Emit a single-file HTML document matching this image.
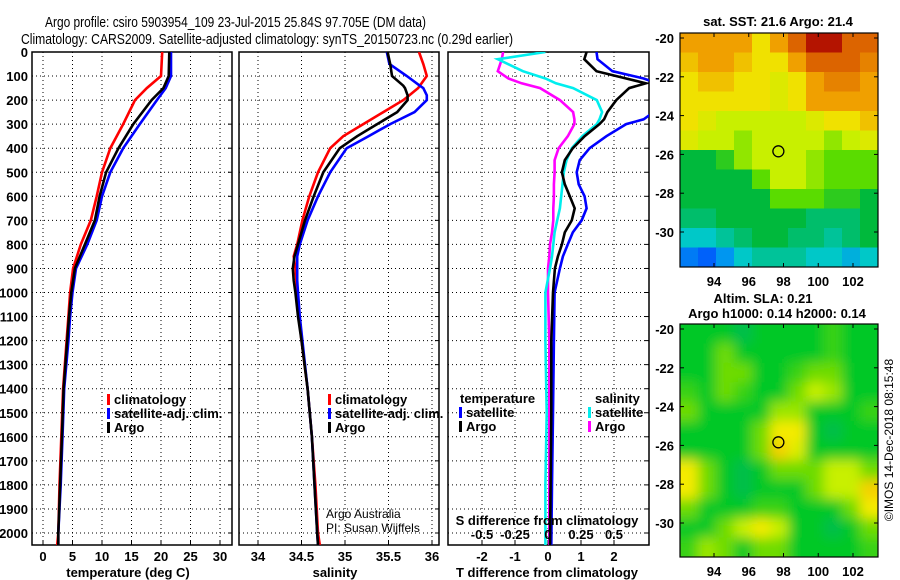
<!DOCTYPE html>
<html><head><meta charset="utf-8"><style>
html,body{margin:0;padding:0;background:#fff}
svg{display:block;font-family:"Liberation Sans",sans-serif}
.b{font-weight:bold;font-size:13px}
.n{font-weight:normal;font-size:12px}
</style></head><body>
<svg id="chart" width="900" height="580" xmlns="http://www.w3.org/2000/svg">
<text x="45" y="27" font-size="15" textLength="381" lengthAdjust="spacingAndGlyphs">Argo profile: csiro 5903954_109 23-Jul-2015 25.84S 97.705E (DM data)</text>
<text x="21" y="44" font-size="15" textLength="492" lengthAdjust="spacingAndGlyphs">Climatology: CARS2009. Satellite-adjusted climatology: synTS_20150723.nc (0.29d earlier)</text>
</svg>
<script>
// ---------- data ----------
const depthTicks=[0,100,200,300,400,500,600,700,800,900,1000,1100,1200,1300,1400,1500,1600,1700,1800,1900,2000];
const tTickLabels=[0,5,10,15,20,25,30];
const sTickLabels=[34,34.5,35,35.5,36];
const dTTickLabels=[-2,-1,0,1,2];
const dSTickLabels=[-0.5,-0.25,0,0.25,0.5];
const tDepths=[0,100,150,200,300,400,500,600,700,800,900,1000,1100,1200,1400,1600,1800,2000,2050];
const tClim=[20.2,20.0,17.6,15.6,13.6,11.4,10.0,9.1,8.1,6.4,5.1,4.6,4.3,4.0,3.4,3.1,2.8,2.6,2.4];
const tSat=[21.7,21.7,20.8,19.3,16.4,13.6,11.4,10.0,9.1,7.5,5.6,5.0,4.6,4.3,3.6,3.3,3.0,2.6,2.6];
const tArgo=[21.4,21.3,20.4,18.4,15.3,12.8,10.7,9.6,8.8,7.1,5.4,4.8,4.4,4.1,3.5,3.2,2.9,2.6,2.6];
const sDepths=[0,50,100,140,150,180,200,250,300,350,400,500,600,700,800,850,900,950,1000,1100,1200,1400,1600,1800,2000,2050];
const sClim=[35.85,35.9,35.94,35.86,35.84,35.74,35.67,35.44,35.21,34.98,34.83,34.69,34.59,34.51,34.45,34.41,34.43,34.44,34.45,34.47,34.5,34.57,34.62,34.66,34.69,34.71];
const sSat=[35.48,35.51,35.71,35.86,35.9,35.94,35.94,35.8,35.52,35.27,35.02,34.83,34.69,34.57,34.48,34.45,34.45,34.45,34.46,34.48,34.51,34.57,34.62,34.65,34.68,34.69];
const sArgo=[35.49,35.52,35.54,35.67,35.69,35.72,35.72,35.6,35.37,35.14,34.94,34.75,34.64,34.54,34.46,34.42,34.4,34.41,34.43,34.46,34.5,34.57,34.62,34.65,34.68,34.69];
const dDepths=[0,30,80,110,130,150,200,250,280,300,350,400,450,500,550,600,650,700,750,800,850,900,1000,1200,1500,1800,2050];
const dTSat=[1.47,1.5,1.95,2.9,3.3,3.5,3.5,3.2,2.9,2.37,1.77,1.26,0.96,0.87,0.93,1.11,1.17,1.02,0.75,0.6,0.45,0.36,0.2,0.18,0.15,0.12,0.1];
const dTArgo=[1.17,1.1,1.47,2.37,2.97,2.46,2.07,1.8,1.7,1.56,1.11,0.75,0.51,0.42,0.51,0.66,0.81,0.72,0.51,0.42,0.3,0.21,0.15,0.1,0.1,0.08,0.06];
const dSSat=[-0.02,-0.38,-0.19,-0.02,0.06,0.19,0.37,0.41,0.39,0.37,0.26,0.18,0.14,0.12,0.11,0.1,0.09,0.07,0.05,0.04,0.03,0.015,-0.02,-0.02,-0.01,-0.02,-0.02];
const dSArgo=[-0.34,-0.35,-0.38,-0.3,-0.2,-0.06,0.09,0.19,0.2,0.2,0.15,0.08,0.05,0.05,0.045,0.045,0.04,0.04,0.03,0.015,0.01,0.0,0.0,0.01,0.01,0.01,0.01];
const lonTicks=[94,96,98,100,102];
const latTicks=[-20,-22,-24,-26,-28,-30];
const sstGrid=[
[8,8,8,8,7,8,9,10,10,9,9],
[7.5,8,8,7.5,7,7,8,9,9,9,8.5],
[7,7.5,7.5,7,7,6.5,7,8,8.5,8.5,8],
[7,7,7,7,7,6.5,7,8,8,8,8],
[7,6.5,6,6,6,6,6,6.5,7,7,7.5],
[6.5,6,6,5.5,6,6,6,6,5.5,6,6.5],
[4,4,4.5,5.5,6,6,6,5.5,5,5,5],
[4,4,4,4,5,6,6,5.5,5,5,5],
[4,4,4,4,4,5,5,5,4.5,4.5,4],
[3.5,3.5,4,4,4,4,4,3.5,3.5,3.5,4],
[2.5,2.5,3,3.5,4,4,3.5,3.5,3,3.5,4],
[1,0.5,1.5,2.5,3,3,3,2.5,2.5,2,2.5]];
const slaGrid=[
[4,4,4,3.5,4,4,4,4,4.5,4,4],
[4,4,5,4,4,4,4,4,4.5,4,4],
[4,4,5,5,4,4,4.5,5,5,4,4],
[4.5,4,5,4.5,4,4,5,6,5.5,4,4],
[5,4,4,4,4,5.5,5.5,4,4,4,4.5],
[4,4,4,4,5,7,7,4,3.5,4,4],
[4,4,4,4,5,7.5,6.5,4,4,4,4],
[7,5,4,3.5,4,5,5,5,6,6,5],
[7,5,4,3.5,4,4,4,5,6,6,7.5],
[5,4,4,4,4.5,4.5,4,4,4,5,7],
[4,4,5,6,7,6,4,4,3.5,4,5],
[4.5,5.5,5,4,5,5,4,4,4,4,4.5]];
const argoLon=97.705, argoLat=-25.84;

// ---------- helpers ----------
const NS="http://www.w3.org/2000/svg";
const svg=document.getElementById('chart');
function mk(tag,attrs,parent){const e=document.createElementNS(NS,tag);for(const k in attrs)e.setAttribute(k,attrs[k]);(parent||svg).appendChild(e);return e;}
function txt(s,x,y,anchor,cls,parent){const e=mk('text',{x:x,y:y,'text-anchor':anchor||'start','class':cls||'b'},parent);e.textContent=s;return e;}
const Y0=52,Y1=545;
function yD(d){return Y0+d*0.2405;}
function lin(v0,p0,v1,p1){return v=>p0+(v-v0)*(p1-p0)/(v1-v0);}

function panel(name,x0,x1,ticksX,labels,xs,showY){
  const g=mk('g',{});
  
  
  const cid='clip-'+name;
  const cp=mk('clipPath',{id:cid},g);mk('rect',{x:x0,y:Y0,width:x1-x0,height:Y1-Y0},cp);
  depthTicks.forEach(d=>{
    const l=mk('line',{x1:x0,x2:x1,y1:yD(d),y2:yD(d),stroke:'#000','stroke-dasharray':'1 3','stroke-width':1},g);
    
    
    mk('line',{x1:x1-4,x2:x1,y1:yD(d),y2:yD(d),stroke:'#000'},g);
    if(showY){const t=txt(String(d),28,yD(d)+5,'end','b',g);
      
      }
  });
  ticksX.forEach(v=>{
    const X=xs(v);
    mk('line',{x1:X,x2:X,y1:Y0,y2:Y1,stroke:'#000','stroke-dasharray':'1 3'},g);
    mk('line',{x1:X,x2:X,y1:Y1-4,y2:Y1,stroke:'#000'},g);
  });
  if(labels) labels.forEach(v=>{const t=txt(String(v),xs(v),561,'middle','b',g);
    
    });
  const f=mk('rect',{x:x0,y:Y0,width:x1-x0,height:Y1-Y0,fill:'none',stroke:'#000','stroke-width':1.5},g);
  
  
  return {g:g,cid:cid};
}
function series(p,name,depths,vals,xs,color){
  const pts=depths.map((d,i)=>xs(vals[i]).toFixed(1)+','+yD(d).toFixed(1)).join(' ');
  const l=mk('polyline',{points:pts,fill:'none',stroke:color,'stroke-width':2.6,'clip-path':'url(#'+p.cid+')'},p.g);
  
  
}
function legendEntry(p,label,x,y,color,name){
  const g=mk('g',{},p.g);
  
  
  mk('rect',{x:x,y:y-10,width:3,height:11,fill:color},g);
  txt(label,x+7,y,'start','b',g);
}

// ---------- panel 1: temperature ----------
const xT=lin(0,43,30,220);
const p1=panel('temperature-panel',32,232,tTickLabels,tTickLabels,xT,true);
series(p1,'temperature-climatology-line',tDepths,tClim,xT,'#ff0000');
series(p1,'temperature-satellite-line',tDepths,tSat,xT,'#0000ff');
series(p1,'temperature-argo-line',tDepths,tArgo,xT,'#000000');
legendEntry(p1,'climatology',107,404,'#ff0000','legend-climatology');
legendEntry(p1,'satellite-adj. clim.',107,418,'#0000ff','legend-satellite');
legendEntry(p1,'Argo',107,432,'#000','legend-argo');
let t=txt('temperature (deg C)',128,577,'middle');



// ---------- panel 2: salinity ----------
const xS=lin(34,258,36,432);
const p2=panel('salinity-panel',239,439,sTickLabels,sTickLabels,xS,false);
series(p2,'salinity-climatology-line',sDepths,sClim,xS,'#ff0000');
series(p2,'salinity-satellite-line',sDepths,sSat,xS,'#0000ff');
series(p2,'salinity-argo-line',sDepths,sArgo,xS,'#000000');
legendEntry(p2,'climatology',328,404,'#ff0000','legend-climatology-s');
legendEntry(p2,'satellite-adj. clim.',328,418,'#0000ff','legend-satellite-s');
legendEntry(p2,'Argo',328,432,'#000','legend-argo-s');
t=txt('Argo Australia',326,518,'start','n',p2.g);


t=txt('PI: Susan Wijffels',326,532,'start','n',p2.g);


t=txt('salinity',335,577,'middle');



// ---------- panel 3: differences ----------
const xDT=lin(0,548,2,614);
const xDS=lin(0,548,0.5,614);
const p3=panel('difference-panel',448,649,dTTickLabels,dTTickLabels,xDT,false);
series(p3,'salinity-argo-diff-line',dDepths,dSArgo,xDS,'#ff00ff');
series(p3,'salinity-satellite-diff-line',dDepths,dSSat,xDS,'#00eeee');
series(p3,'temperature-satellite-diff-line',dDepths,dTSat,xDT,'#0000ff');
series(p3,'temperature-argo-diff-line',dDepths,dTArgo,xDT,'#000000');
t=txt('temperature',460,403,'start','b',p3.g);


t=txt('salinity',595,403,'start','b',p3.g);


legendEntry(p3,'satellite',459,417,'#0000ff','legend-t-satellite');
legendEntry(p3,'Argo',459,431,'#000','legend-t-argo');
legendEntry(p3,'satellite',588,417,'#00eeee','legend-s-satellite');
legendEntry(p3,'Argo',588,431,'#ff00ff','legend-s-argo');
t=txt('S difference from climatology',547,525,'middle','b',p3.g);


dSTickLabels.forEach(v=>{const e=txt(String(v),xDS(v),539,'middle','b',p3.g);
  
  });
t=txt('T difference from climatology',547,577,'middle');



// ---------- maps ----------
const sstStops=[[0,[0,70,255]],[1.5,[0,150,240]],[2.5,[0,200,200]],[4,[0,185,60]],[5,[90,220,0]],[6,[200,240,0]],[7,[240,225,0]],[8,[240,160,0]],[9,[220,100,0]],[10,[180,20,0]]];
const slaStops=[[3,[0,180,110]],[4,[0,200,40]],[5,[110,220,0]],[6,[200,240,0]],[7,[245,235,0]],[8,[245,180,0]]];
function cmap(stops,v){
  if(v<=stops[0][0])return 'rgb('+stops[0][1]+')';
  for(let i=1;i<stops.length;i++){if(v<=stops[i][0]){const a=stops[i-1],b=stops[i],f=(v-a[0])/(b[0]-a[0]);
    return 'rgb('+a[1].map((c,k)=>Math.round(c+(b[1][k]-c)*f)).join(',')+')';}}
  return 'rgb('+stops[stops.length-1][1]+')';
}
const MX0=680,MX1=878;
const lonX=lin(94,714,102,853);
function drawMap(name,top,bot,grid,stops,titles,blur){
  const g=mk('g',{});
  
  
  const latY=lin(-20,top+5,-30,top+199);
  const cid='clip-'+name;
  const cp=mk('clipPath',{id:cid},g);mk('rect',{x:MX0,y:top,width:MX1-MX0,height:bot-top},cp);
  const cg=mk('g',{'clip-path':'url(#'+cid+')'},g);
  const inner=mk('g',blur?{filter:'url(#blur-'+name+')'}:{},cg);
  if(blur){const f=mk('filter',{id:'blur-'+name,x:'-10%',y:'-10%',width:'120%',height:'120%'},g);mk('feGaussianBlur',{stdDeviation:6},f);}
  const rows=grid.length,cols=grid[0].length,cw=(MX1-MX0)/cols,ch=(bot-top)/rows;
  grid.forEach((row,r)=>row.forEach((v,c)=>{
    const cell=mk('rect',{x:MX0+c*cw-(blur&&c==0?12:0),y:top+r*ch-(blur&&r==0?12:0),width:cw+0.6+(blur&&(c==0||c==cols-1)?12:0),height:ch+0.6+(blur&&(r==0||r==rows-1)?12:0),fill:cmap(stops,v)},inner);
    
    
  }));
  const mk1=mk('circle',{cx:lonX(argoLon),cy:latY(argoLat),r:5.5,fill:'none',stroke:'#000','stroke-width':1.3},g);
  
  
  mk('rect',{x:MX0,y:top,width:MX1-MX0,height:bot-top,fill:'none',stroke:'#000','stroke-width':1.2},g);
  lonTicks.forEach(v=>{mk('line',{x1:lonX(v),x2:lonX(v),y1:bot,y2:bot-4,stroke:'#000'},g);
    mk('line',{x1:lonX(v),x2:lonX(v),y1:top,y2:top+4,stroke:'#000'},g);
    const e=txt(String(v),lonX(v),bot+19,'middle','b',g);
    
    });
  latTicks.forEach(v=>{mk('line',{x1:MX0,x2:MX0+4,y1:latY(v),y2:latY(v),stroke:'#000'},g);
    mk('line',{x1:MX1,x2:MX1-4,y1:latY(v),y2:latY(v),stroke:'#000'},g);
    const e=txt(String(v),674,latY(v)+5,'end','b',g);
    
    });
  titles.forEach((s,i)=>{const e=txt(s[0],s[1],s[2],'middle','b',g);
    
    });
}
drawMap('sst-map',33,267,sstGrid,sstStops,[['sat. SST: 21.6 Argo: 21.4',778,26]],false);
drawMap('sla-map',324,557,slaGrid,slaStops,[['Altim. SLA: 0.21',763,303],['Argo h1000: 0.14 h2000: 0.14',777,318]],true);
t=txt('©IMOS 14-Dec-2018 08:15:48',0,0,'middle','n',svg);
t.setAttribute('font-size','13');
t.setAttribute('transform','translate(893,440) rotate(-90)');


</script>
</body></html>
